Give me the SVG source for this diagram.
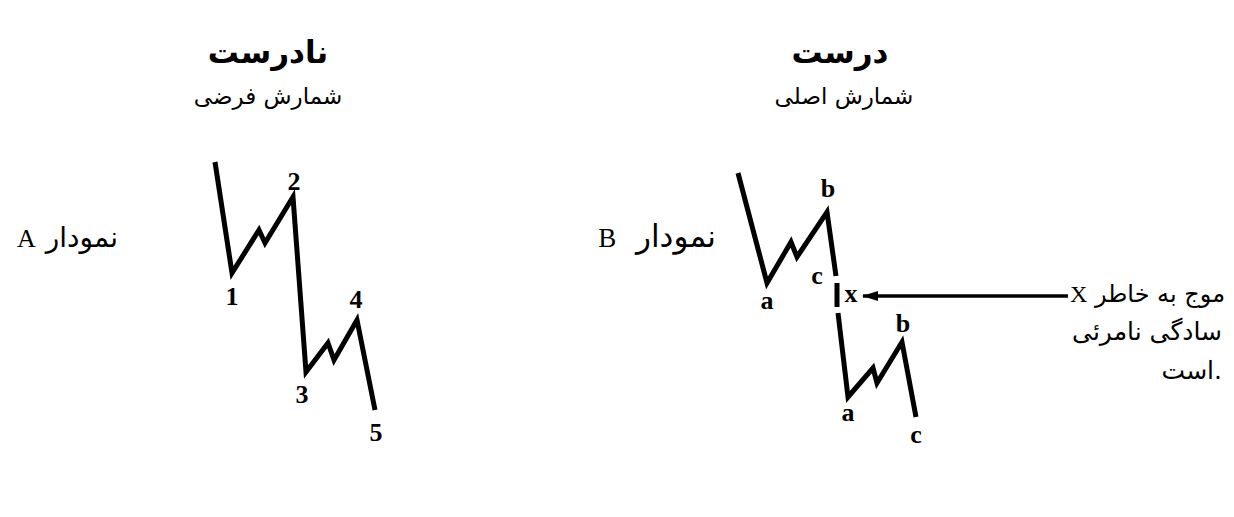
<svg xmlns="http://www.w3.org/2000/svg" width="1234" height="517" viewBox="0 0 1234 517">
<style>
.w{fill:none;stroke:#000;stroke-width:5;stroke-linejoin:miter;stroke-linecap:butt}
.lbl{font-family:"Liberation Serif",serif;font-weight:bold;font-size:26px;fill:#000;text-anchor:middle}
.fa{font-family:"DejaVu Sans","Liberation Serif",sans-serif;fill:#000}
.ttl{font-size:31px;font-weight:bold}
.sub{font-size:23px}
.cap{font-size:28px}
.note{font-size:25px}
.lat{font-family:"Liberation Serif",serif}
</style>
<defs>
<marker id="ah" viewBox="0 0 16 10" refX="15" refY="5" markerWidth="16" markerHeight="10" orient="auto" markerUnits="userSpaceOnUse">
<path d="M0,0 L16,5 L0,10 z" fill="#000"/>
</marker>
</defs>
<rect width="1234" height="517" fill="#fff"/>
<g id="title-wrong">
<text class="fa ttl" x="268" y="63" text-anchor="middle">نادرست</text>
<text class="fa sub" x="268" y="104" text-anchor="middle">شمارش فرضی</text>
</g>
<g id="title-right">
<text class="fa ttl" x="840" y="63" text-anchor="middle">درست</text>
<text class="fa sub" x="844" y="104" text-anchor="middle">شمارش اصلی</text>
</g>
<g id="label-A">
<text class="fa cap" x="118" y="247" direction="rtl" unicode-bidi="embed" text-anchor="start" word-spacing="1">نمودار <tspan class="lat" font-size="26">A</tspan></text>
</g>
<g id="label-B">
<text class="fa" x="716" y="247" font-size="31" direction="rtl" unicode-bidi="embed" text-anchor="start" word-spacing="10">نمودار <tspan class="lat" font-size="27">B</tspan></text>
</g>
<g id="chart-A">
<polyline class="w" points="215,162 232,273 259,230 265,243 293,197 306,372 328,343 334,360 357,320 375,410"/>
<text class="lbl" x="232" y="305">1</text>
<text class="lbl" x="294" y="190">2</text>
<text class="lbl" x="302" y="403">3</text>
<text class="lbl" x="356" y="308">4</text>
<text class="lbl" x="376" y="441">5</text>
</g>
<g id="chart-B">
<polyline class="w" points="738,173 767,283 791,242 797,257 827,212 836,276"/>
<line class="w" x1="837" y1="283" x2="837" y2="307"/>
<polyline class="w" points="838,313 848,397 873,368 877,383 902,342 916,417"/>
<text class="lbl" x="828" y="197">b</text>
<text class="lbl" x="767" y="309">a</text>
<text class="lbl" x="817" y="284">c</text>
<text class="lbl" x="851" y="302">x</text>
<text class="lbl" x="903" y="332">b</text>
<text class="lbl" x="848" y="421">a</text>
<text class="lbl" x="916" y="443">c</text>
</g>
<g id="connectors">
<line x1="1068" y1="296" x2="863" y2="296" stroke="#000" stroke-width="3.5" marker-end="url(#ah)"/>
</g>
<g id="note">
<text class="fa" x="1070" y="302" font-size="24"><tspan class="lat">X</tspan> موج به خاطر</text>
<text class="fa note" x="1222" y="340" text-anchor="end">سادگی نامرئی</text>
<text class="fa note" x="1222" y="379" text-anchor="end">است.</text>
</g>
</svg>
